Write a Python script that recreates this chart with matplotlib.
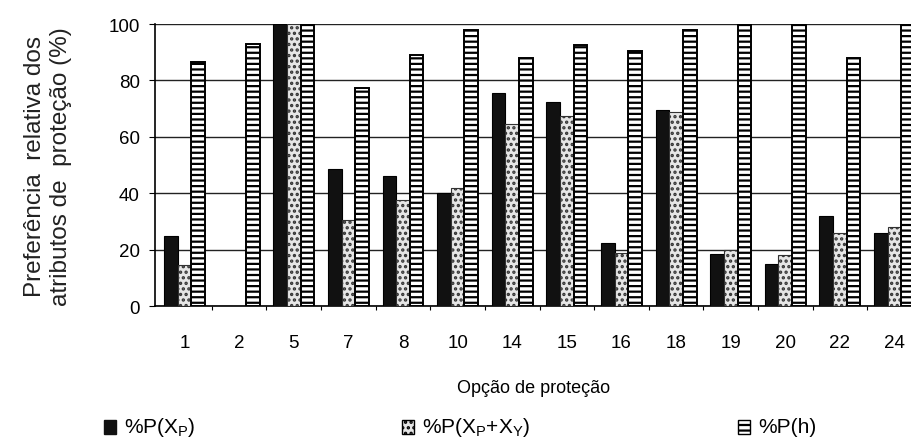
import numpy as np
import matplotlib
matplotlib.use('Agg')
import matplotlib.pyplot as plt
from matplotlib.patches import Rectangle

plt.rcParams['font.family'] = ['Liberation Sans', 'DejaVu Sans']
plt.rcParams['hatch.linewidth'] = 1.6

opcoes = ['1', '2', '5', '7', '8', '10', '14', '15', '16', '18', '19', '20', '22', '24']
p_xp = [25, 0, 100, 48.5, 46, 40, 75.5, 72.5, 22.5, 69.5, 18.5, 15, 32, 26]
p_xpxy = [14.5, 0, 100, 30.5, 37.5, 42, 64.5, 67.5, 19, 69, 20, 18, 26, 28]
p_h = [86.5, 93, 100, 77.5, 89, 98, 88, 92.5, 90.5, 98, 100, 99.5, 88, 99.5]

fig = plt.figure(figsize=(9.12, 4.39), dpi=100)
ax = fig.add_axes([0.170, 0.300, 0.830, 0.643])

x = np.arange(len(opcoes))
w = 0.25

ax.bar(x - w, p_xp, w, color='#111111', edgecolor='black', linewidth=0.8, zorder=3)
ax.bar(x, p_xpxy, w, color='#e6e6e6', edgecolor='#333333', hatch='...', linewidth=0.8, zorder=3)
ax.bar(x + w, p_h, w, color='white', edgecolor='black', hatch='---', linewidth=1.4, zorder=3)

ax.set_xlim(-0.54, 13.32)
ax.set_ylim(0, 100)
ax.set_yticks(range(0, 101, 20))
ax.set_xticks(x)
ax.set_xticklabels(opcoes, fontsize=13.5)
ax.set_xticks(x[:-1] + 0.5, minor=True)
ax.tick_params(axis='x', which='major', length=0, pad=20)
ax.tick_params(axis='x', which='minor', length=3, width=0.8)
ax.tick_params(axis='y', labelsize=13.5, length=4, width=0.8, pad=7)

ax.grid(axis='y', color='#222222', linewidth=1.0, zorder=0)
for s in ['top', 'right']:
    ax.spines[s].set_visible(False)
ax.spines['left'].set_linewidth(1.2)
ax.spines['bottom'].set_linewidth(1.2)

ax.set_xlabel('Opção de proteção', fontsize=13, labelpad=20)
ax.set_ylabel('Preferência  relativa dos\natributos de  proteção (%)', fontsize=17.5,
              color='#222222', linespacing=1.2)
ax.yaxis.set_label_coords(-0.110, 0.5)

# legend drawn by hand underneath
leg = [
    (0.114, dict(color='#111111', edgecolor='black'), r'%P(X$_\mathregular{P}$)'),
    (0.441, dict(facecolor='#e6e6e6', edgecolor='black', hatch='...'), r'%P(X$_\mathregular{P}$+X$_\mathregular{Y}$)'),
    (0.809, dict(facecolor='white', edgecolor='black', hatch='---'), '%P(h)'),
]
for lx, style, label in leg:
    fig.add_artist(Rectangle((lx, 0.009), 0.013, 0.032, transform=fig.transFigure, linewidth=1, **style))
    fig.text(lx + 0.022, 0.026, label, fontsize=15, va='center', ha='left')

fig.savefig('out.png', dpi=100)
